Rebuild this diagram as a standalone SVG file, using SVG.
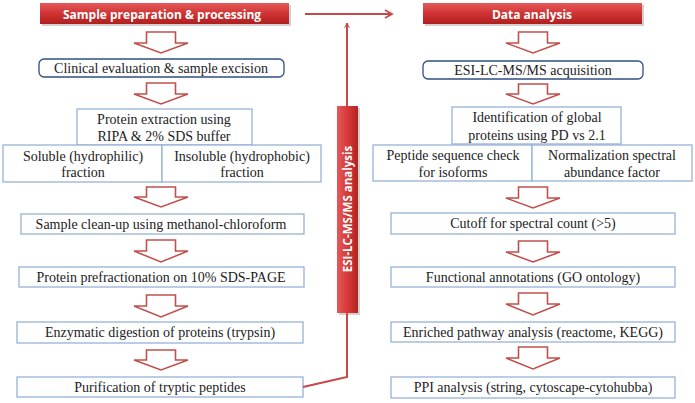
<svg xmlns="http://www.w3.org/2000/svg" width="695" height="403" viewBox="0 0 695 403">
<defs>
<linearGradient id="hdr" x1="0" y1="0" x2="0" y2="1">
<stop offset="0" stop-color="#E65A5A"/>
<stop offset="0.5" stop-color="#D03434"/>
<stop offset="1" stop-color="#B01E1E"/>
</linearGradient>
<linearGradient id="bar" x1="0" y1="0" x2="1" y2="0">
<stop offset="0" stop-color="#E85858"/>
<stop offset="0.6" stop-color="#D03434"/>
<stop offset="1" stop-color="#B22222"/>
</linearGradient>
<marker id="ah" viewBox="0 0 10 10" refX="9" refY="5" markerWidth="6" markerHeight="6" orient="auto" markerUnits="userSpaceOnUse">
<path d="M1,1 L9,5 L1,9" fill="none" stroke="#C84848" stroke-width="1.6"/>
</marker>
<marker id="ah2" viewBox="0 0 10 10" refX="8" refY="5" markerWidth="10" markerHeight="10" orient="auto" markerUnits="userSpaceOnUse">
<path d="M1,1 L8,5 L1,9" fill="none" stroke="#C84848" stroke-width="1.8"/>
</marker>
</defs>
<style>
.hdr{fill:url(#hdr);}
.shadow{fill:#000;opacity:0.18;}
.ht{font-family:'Open Sans',sans-serif;font-weight:700;font-size:12px;fill:#fff;text-anchor:middle;}
.vt{font-family:'Open Sans',sans-serif;font-weight:700;font-size:11.5px;fill:#fff;text-anchor:middle;}
.box{fill:#fff;stroke:#95B3D7;stroke-width:1.3;}
.rbox{fill:#fff;stroke:#2F4F80;stroke-width:1.3;}
.t{font-size:14px;fill:#222;text-anchor:middle;}
.ar{fill:#fff;stroke:#C0504D;stroke-width:1.6;stroke-linejoin:miter;}
.cn{fill:none;stroke:#C84848;stroke-width:2;}
</style>

<g id="header-left">
<rect class="shadow" x="42" y="5" width="249" height="21"/>
<rect class="hdr" x="40" y="3" width="249" height="21"/>
<text class="ht" x="162" y="18.5">Sample preparation &amp; processing</text>
</g>
<g id="header-right">
<rect class="shadow" x="425" y="5" width="219" height="21"/>
<rect class="hdr" x="423" y="3" width="219" height="21"/>
<text class="ht" x="532" y="18.5">Data analysis</text>
</g>

<g id="bar-esi">
<rect class="shadow" x="339" y="108" width="21" height="207"/>
<rect fill="url(#bar)" x="337" y="106" width="21" height="207"/>
<text class="vt" transform="translate(351.5,209) rotate(-90)">ESI-LC-MS/MS analysis</text>
</g>

<g font-family="Liberation Serif, Times New Roman, DejaVu Serif, serif">
<g id="n-clinical">
<rect class="rbox" x="39" y="59" width="245" height="18" rx="5"/>
<text class="t" x="161" y="72.5">Clinical evaluation &amp; sample excision</text>
</g>
<g id="n-extraction">
<rect class="box" x="77" y="109" width="175" height="36"/>
<text class="t" x="164" y="123.5">Protein extraction using</text>
<text class="t" x="164" y="141">RIPA &amp; 2% SDS buffer</text>
</g>
<g id="n-soluble">
<rect class="box" x="3" y="145" width="159" height="37"/>
<text class="t" x="83" y="160.5">Soluble (hydrophilic)</text>
<text class="t" x="83" y="177">fraction</text>
</g>
<g id="n-insoluble">
<rect class="box" x="162" y="145" width="159" height="37"/>
<text class="t" x="242" y="160.5">Insoluble (hydrophobic)</text>
<text class="t" x="242" y="177">fraction</text>
</g>
<g id="n-cleanup">
<rect class="box" x="21" y="214" width="283" height="20"/>
<text class="t" x="161" y="228.5">Sample clean-up using methanol-chloroform</text>
</g>
<g id="n-prefrac">
<rect class="box" x="19" y="267" width="285" height="20"/>
<text class="t" x="161" y="281.5">Protein prefractionation on 10% SDS-PAGE</text>
</g>
<g id="n-digestion">
<rect class="box" x="17" y="322" width="286" height="21"/>
<text class="t" x="160" y="337">Enzymatic digestion of proteins (trypsin)</text>
</g>
<g id="n-purification">
<rect class="box" x="17" y="377" width="286" height="20"/>
<text class="t" x="160" y="391.5">Purification of tryptic peptides</text>
</g>

<g id="n-acquisition">
<rect class="rbox" x="423" y="61" width="220" height="18" rx="5"/>
<text class="t" x="533" y="74.5">ESI-LC-MS/MS acquisition</text>
</g>
<g id="n-identification">
<rect class="box" x="452" y="107" width="169" height="37"/>
<text class="t" x="537" y="122">Identification of global</text>
<text class="t" x="537" y="139.5">proteins using PD vs 2.1</text>
</g>
<g id="n-peptide">
<rect class="box" x="373" y="145" width="159" height="36"/>
<text class="t" x="453" y="160">Peptide sequence check</text>
<text class="t" x="453" y="176.5">for isoforms</text>
</g>
<g id="n-normalization">
<rect class="box" x="532" y="145" width="160" height="36"/>
<text class="t" x="612" y="160">Normalization spectral</text>
<text class="t" x="612" y="176.5">abundance factor</text>
</g>
<g id="n-cutoff">
<rect class="box" x="391" y="213" width="284" height="21"/>
<text class="t" x="533" y="228">Cutoff for spectral count (&gt;5)</text>
</g>
<g id="n-functional">
<rect class="box" x="391" y="267" width="284" height="20"/>
<text class="t" x="533" y="281.5">Functional annotations (GO ontology)</text>
</g>
<g id="n-enriched">
<rect class="box" x="391" y="322" width="284" height="20"/>
<text class="t" x="533" y="336.5">Enriched pathway analysis (reactome, KEGG)</text>
</g>
<g id="n-ppi">
<rect class="box" x="391" y="377" width="284" height="21"/>
<text class="t" x="533" y="392">PPI analysis (string, cytoscape-cytohubba)</text>
</g>
</g>

<g id="connectors">
<path class="ar" d="M146.5,32 H175.5 V43 H188 L161,53 L134,43 H146.5 Z"/>
<path class="ar" d="M146.5,83 H175.5 V94 H188 L161,104 L134,94 H146.5 Z"/>
<path class="ar" d="M146.5,187 H175.5 V197 H188 L161,207 L134,197 H146.5 Z"/>
<path class="ar" d="M146.5,240 H175.5 V251 H188 L161,262 L134,251 H146.5 Z"/>
<path class="ar" d="M146.5,295 H175.5 V306 H188 L161,317 L134,306 H146.5 Z"/>
<path class="ar" d="M146.5,350 H175.5 V360 H188 L161,370 L134,360 H146.5 Z"/>
<path class="ar" d="M518.5,32 H547.5 V43 H560 L533,53 L506,43 H518.5 Z"/>
<path class="ar" d="M518.5,84 H547.5 V94 H560 L533,104 L506,94 H518.5 Z"/>
<path class="ar" d="M518.5,187 H547.5 V198 H560 L533,208 L506,198 H518.5 Z"/>
<path class="ar" d="M518.5,241 H547.5 V252 H560 L533,262 L506,252 H518.5 Z"/>
<path class="ar" d="M518.5,293 H547.5 V304 H560 L533,315 L506,304 H518.5 Z"/>
<path class="ar" d="M518.5,347 H547.5 V358 H560 L533,369 L506,358 H518.5 Z"/>
<path class="cn" d="M303,387 L347,377 V313"/>
<path class="cn" d="M347,106 V23" marker-end="url(#ah)"/>
<path class="cn" d="M305,14 H392" marker-end="url(#ah2)"/>
</g>
</svg>
